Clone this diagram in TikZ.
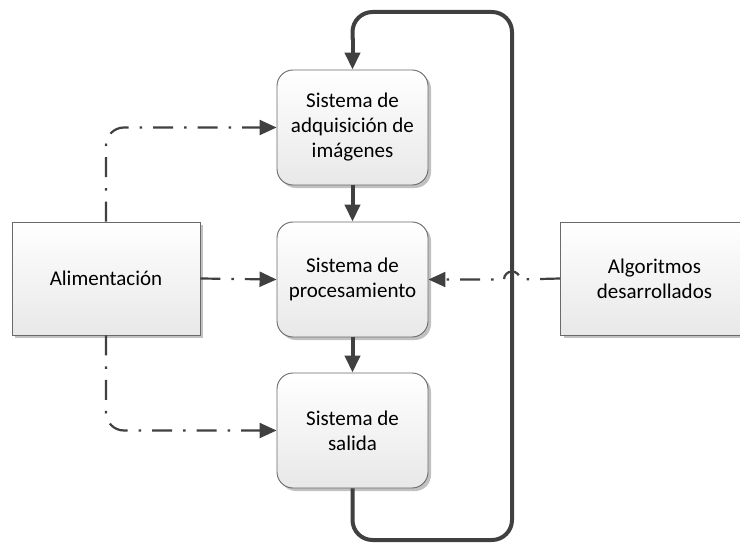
\documentclass[tikz,border=0pt]{standalone}
\usepackage{fontspec}
\setmainfont{Carlito}
\usetikzlibrary{arrows.meta,shadows,calc}
\definecolor{lnc}{HTML}{404040}
\definecolor{bdc}{HTML}{6A6A6A}
\tikzset{
  sysbox/.style={draw=bdc, line width=0.9pt, rounded corners=16pt, minimum width=151pt, minimum height=115pt,
    top color=white, bottom color=black!9, align=center, font=\fontsize{21}{25}\selectfont,
    drop shadow={shadow xshift=3pt, shadow yshift=-3pt, fill=black!30, opacity=0.8}},
  sidebox/.style={draw=bdc, line width=0.9pt, minimum width=188pt, minimum height=113pt,
    top color=white, bottom color=black!9, align=center, font=\fontsize{21}{25}\selectfont,
    drop shadow={shadow xshift=3pt, shadow yshift=-3pt, fill=black!30, opacity=0.8}},
  thickarrow/.style={draw=lnc, line width=4pt, -{Triangle[length=17pt,width=15pt]}},
  thickline/.style={draw=lnc, line width=4pt, rounded corners=20pt},
  dashdot/.style={draw=lnc, line width=2.2pt, dash pattern=on 20pt off 11pt on 2.5pt off 11pt},
  dashtip/.style={-{Triangle[length=17pt,width=15pt]}},
}
\begin{document}
\begin{tikzpicture}[x=1pt,y=-1pt]
\useasboundingbox[fill=white] (0,0) rectangle (740,543);
\node[sysbox] (adq) at (352.5,127.5) {Sistema de\\adquisición de\\imágenes};
\node[sysbox] (proc) at (352.5,279.5) {Sistema de\\procesamiento};
\node[sysbox] (sal) at (352.5,430.5) {Sistema de\\salida};
\node[sidebox] (alim) at (106,278.5) {Alimentación};
\node[sidebox] (alg) at (654.5,278.5) {Algoritmos\\desarrollados};
% thick arrows between systems
\draw[thickarrow] (adq.south) -- (proc.north);
\draw[thickarrow] (proc.south) -- (sal.north);
% feedback loop
\coordinate (lb) at (352.5,540);
\coordinate (rb) at (512,540);
\coordinate (rt) at (512,12);
\coordinate (lt) at (352.5,12);
\draw[thickline] (sal.south) -- (lb) -- (rb) -- (rt) -- (lt) -- ($(adq.north)+(0,-30)$);
\draw[thickarrow] ($(adq.north)+(0,-32)$) -- (adq.north);
% dash-dot connectors
\draw[dashdot, dashtip, rounded corners=18pt] (alim.north) -- (alim.north |- adq.west) -- (adq.west);
\draw[dashdot, dashtip] (alim.east) -- (proc.west);
\draw[dashdot, dashtip, rounded corners=18pt] (alim.south) -- (alim.south |- sal.west) -- (sal.west);
\coordinate (jr) at (520,279.5);
\coordinate (jl) at (504,279.5);
\draw[dashdot, dashtip] (alg.west) -- (jr) arc[start angle=0, end angle=-180, radius=8] -- (proc.east);
\end{tikzpicture}
\end{document}
